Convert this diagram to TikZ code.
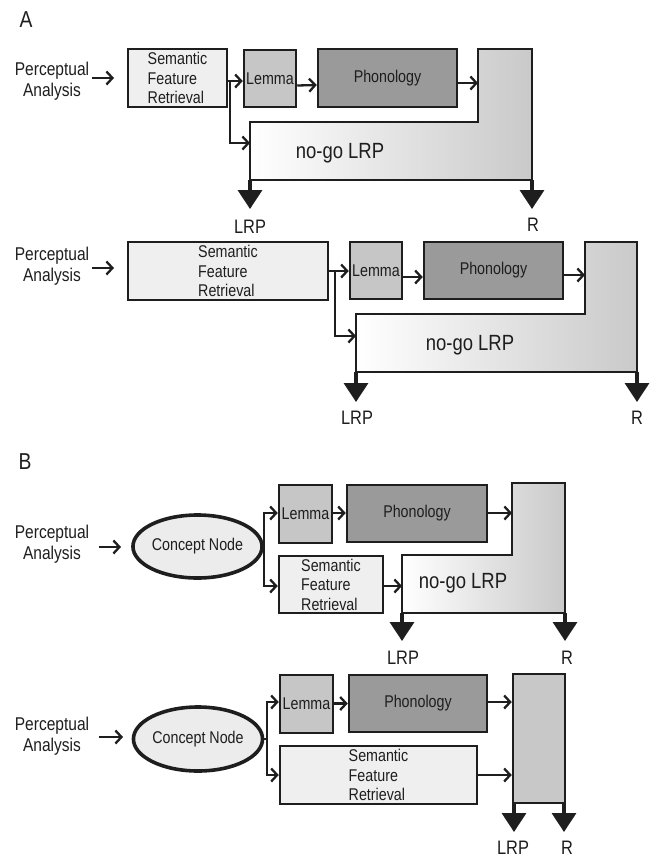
\documentclass[tikz,border=0pt]{standalone}
\usepackage{fontspec}
\setmainfont[FakeStretch=0.84]{Liberation Sans}
\usetikzlibrary{arrows.meta,shapes.geometric,calc}
\definecolor{ink}{HTML}{1E1E1E}
\definecolor{sfrfill}{HTML}{EFEFEF}
\definecolor{lemfill}{HTML}{C6C6C6}
\definecolor{phfill}{HTML}{9A9A9A}
\definecolor{ellfill}{HTML}{ECECEC}
\definecolor{rfill}{HTML}{C8C8C8}
\begin{document}
\begin{tikzpicture}[x=1pt,y=-1pt,
  box/.style={draw=ink, line width=2.5pt, inner sep=0pt, text=ink,
    font=\fontsize{17}{19.5}\selectfont, align=left},
  sfrbox/.style={box, fill=sfrfill},
  lembox/.style={box, fill=lemfill},
  phbox/.style={box, fill=phfill},
  concept/.style={ellipse, draw=ink, line width=3.6pt, fill=ellfill, inner sep=0pt,
    text=ink, font=\fontsize{17}{19.5}\selectfont},
  pa/.style={align=center, text=ink, font=\fontsize{18.5}{21.5}\selectfont, inner sep=0pt},
  nogo/.style={text=ink, font=\fontsize{22}{24}\selectfont, inner sep=0pt},
  lbl/.style={text=ink, font=\fontsize{19.5}{22}\selectfont, inner sep=0pt},
  panel/.style={text=ink, font=\fontsize{23}{25}\selectfont, inner sep=0pt},
  arr/.style={draw=ink, line width=2.3pt, -{Straight Barb[length=6pt,width=13pt]}},
  plain/.style={draw=ink, line width=2.3pt},
  down/.style={draw=ink, line width=3.5pt, -{Triangle[length=19pt,width=24pt]}},
  lshape/.style={left color=white, right color=black!21, draw=ink, line width=2.5pt},
]
\useasboundingbox (0,0) rectangle (651,860);

% ================= Panel A, top =================
\node[panel] (A) at (26,20) {A};
\node[pa] (pa1) at (52,81) {Perceptual\\Analysis};
\coordinate (pa1e) at (114,78);
\draw[arr] ($(pa1.east|-pa1e)+(3,0)$) -- (pa1e);
\node[sfrbox, minimum width=99pt, minimum height=58pt] (sfr1) at (177.5,78) {Semantic\\Feature\\Retrieval};
\node[lembox, minimum width=52pt, minimum height=57pt] (lem1) at (270,78.5) {Lemma};
\node[phbox, minimum width=139pt, minimum height=58pt] (ph1) at (387.5,78) {Phonology};
\shadedraw[lshape] (250,122) -- (478,122) -- (478,49) -- (532,49) -- (532,180) -- (250,180) -- cycle;
\coordinate (L1u) at (478,83);
\coordinate (L1w) at (250,143);
\coordinate (L1bl) at (250,180);
\coordinate (L1br) at (532,180);
\node[nogo] (ng1) at (340,153) {no-go LRP};
\coordinate (b1) at (230,81);
\draw[arr] (sfr1.east|-b1) -- (lem1.west|-b1);
\draw[arr] (b1) |- (L1w);
\draw[arr] ($(lem1.east)+(0,7)$) -- ($(ph1.west)+(0,7)$);
\draw[arr] (ph1.east|-L1u) -- (L1u);
\coordinate (t1l) at (250,209);
\coordinate (t1r) at (532,209);
\draw[down] (L1bl) -- (t1l);
\draw[down] (L1br) -- (t1r);
\node[lbl] (lrp1) at (250,227) {LRP};
\node[lbl] (r1) at (533,225) {R};

% ================= Panel A, bottom =================
\node[pa] (pa2) at (52,266) {Perceptual\\Analysis};
\coordinate (pa2e) at (114,268);
\draw[arr] ($(pa2.east|-pa2e)+(3,0)$) -- (pa2e);
\node[sfrbox, minimum width=200pt, minimum height=58pt] (sfr2) at (228,271) {Semantic\\Feature\\Retrieval};
\node[lembox, minimum width=52pt, minimum height=57pt] (lem2) at (376,270.5) {Lemma};
\node[phbox, minimum width=139pt, minimum height=57pt] (ph2) at (493.5,270.5) {Phonology};
\shadedraw[lshape] (356,314) -- (585,314) -- (585,242) -- (637,242) -- (637,372) -- (356,372) -- cycle;
\coordinate (L2u) at (585,275);
\coordinate (L2w) at (356,336);
\coordinate (L2bl) at (356,372);
\coordinate (L2br) at (637,372);
\node[nogo] (ng2) at (470,345) {no-go LRP};
\coordinate (b2) at (335,271);
\draw[arr] (sfr2.east|-b2) -- (lem2.west|-b2);
\draw[arr] (b2) |- (L2w);
\draw[arr] ($(lem2.east)+(0,6.5)$) -- ($(ph2.west)+(0,6.5)$);
\draw[arr] (ph2.east|-L2u) -- (L2u);
\coordinate (t2l) at (356,402);
\coordinate (t2r) at (637,402);
\draw[down] (L2bl) -- (t2l);
\draw[down] (L2br) -- (t2r);
\node[lbl] (lrp2) at (357,418) {LRP};
\node[lbl] (r2) at (637,418) {R};

% ================= Panel B, top =================
\node[panel] (B) at (25,462) {B};
\node[pa] (pa3) at (52,544) {Perceptual\\Analysis};
\coordinate (pa3e) at (121,547);
\draw[arr] ($(pa3.east|-pa3e)+(10,0)$) -- (pa3e);
\node[concept, minimum width=119pt, minimum height=63pt] (ell1) at (197.5,546.5) {Concept Node};
\node[lembox, minimum width=53pt, minimum height=58pt] (lem3) at (305.5,514) {Lemma};
\node[sfrbox, minimum width=104pt, minimum height=57pt] (sfr3) at (331,584.5) {Semantic\\Feature\\Retrieval};
\node[phbox, minimum width=140pt, minimum height=57pt] (ph3) at (417,513.5) {Phonology};
\shadedraw[lshape] (402,555) -- (512,555) -- (512,483) -- (565,483) -- (565,613) -- (402,613) -- cycle;
\coordinate (L3u) at (512,513);
\coordinate (L3w) at (402,586);
\coordinate (L3bl) at (402,613);
\coordinate (L3br) at (565,613);
\node[nogo] (ng3) at (463,583) {no-go LRP};
\coordinate (bb1) at (264,547);
\draw[plain] (ell1.east) -- (bb1);
\draw[arr] (bb1) |- (lem3.west|-L3u);
\draw[arr] (bb1) |- (sfr3.west|-L3w);
\draw[arr] (lem3.east|-L3u) -- (ph3.west|-L3u);
\draw[arr] (ph3.east|-L3u) -- (L3u);
\draw[arr] (sfr3.east|-L3w) -- (L3w);
\coordinate (t3l) at (402,641);
\coordinate (t3r) at (565,641);
\draw[down] (L3bl) -- (t3l);
\draw[down] (L3br) -- (t3r);
\node[lbl] (lrp3) at (403,658) {LRP};
\node[lbl] (r3) at (567,658) {R};

% ================= Panel B, bottom =================
\node[pa] (pa4) at (52,736) {Perceptual\\Analysis};
\coordinate (pa4e) at (123,737);
\draw[arr] ($(pa4.east|-pa4e)+(10,0)$) -- (pa4e);
\node[concept, minimum width=120pt, minimum height=64pt] (ell2) at (198,739) {Concept Node};
\node[lembox, minimum width=53pt, minimum height=58pt] (lem4) at (306.5,704) {Lemma};
\node[phbox, minimum width=138pt, minimum height=57pt] (ph4) at (418,703.5) {Phonology};
\node[sfrbox, minimum width=197pt, minimum height=58pt] (sfr4) at (378.5,775) {Semantic\\Feature\\Retrieval};
\node[box, fill=rfill, minimum width=52pt, minimum height=129pt] (R4) at (539,738.5) {};
\coordinate (bb2) at (267,739);
\coordinate (y4a) at (0,702);
\coordinate (y4b) at (0,775);
\draw[plain] (ell2.east) -- (bb2);
\draw[arr] (bb2) |- (lem4.west|-y4a);
\draw[arr] (bb2) |- (sfr4.west|-y4b);
\draw[arr] (lem4.east|-ph4.west) -- (ph4.west);
\draw[arr] (ph4.east|-y4a) -- (R4.west|-y4a);
\draw[arr] (sfr4.east|-y4b) -- (R4.west|-y4b);
\coordinate (R4bl) at (514,803);
\coordinate (R4br) at (564,803);
\coordinate (t4l) at (514,832);
\coordinate (t4r) at (564,832);
\draw[down] (R4bl) -- (t4l);
\draw[down] (R4br) -- (t4r);
\node[lbl] (lrp4) at (513,848) {LRP};
\node[lbl] (r4) at (567,848) {R};
\end{tikzpicture}
\end{document}
